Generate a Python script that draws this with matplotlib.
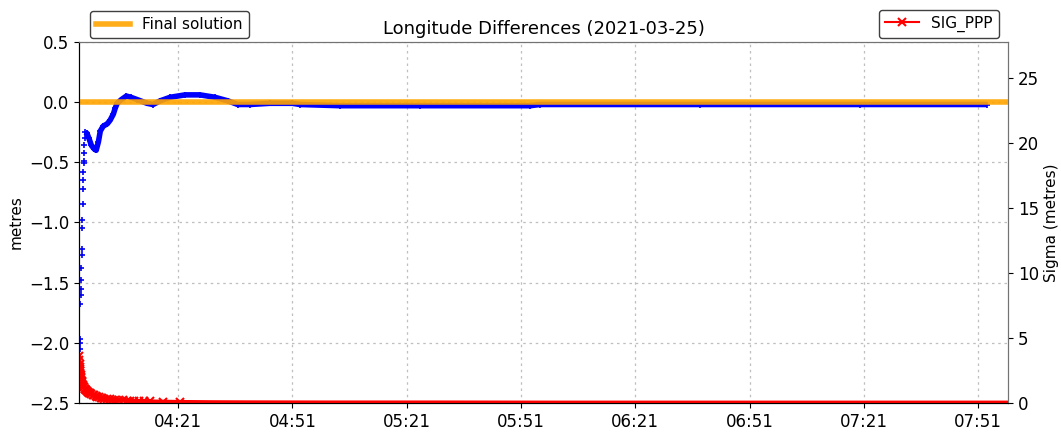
import matplotlib
matplotlib.use("Agg")
import matplotlib.pyplot as plt
import matplotlib.dates as mdates
import pandas as pd

# time range of the session
t_start = "2021-03-25 03:55:00"
t_end = "2021-03-25 07:58:50"

# longitude differences (metres)
lon_times = ["03:55:00", "03:55:04", "03:55:08", "03:55:12", "03:55:16", "03:55:20",
             "03:55:24", "03:55:28", "03:55:32", "03:55:36", "03:55:40", "03:55:44",
             "03:55:48", "03:55:52", "03:55:56", "03:56:00", "03:56:04", "03:56:08",
             "03:56:12", "03:56:16", "03:56:20", "03:56:24", "03:56:28",
             "03:56:35", "03:57:05", "03:57:35", "03:58:15", "03:59:00", "03:59:30",
             "04:00:05", "04:00:35", "04:01:20", "04:02:25", "04:03:10", "04:04:00",
             "04:04:30", "04:05:00", "04:06:05", "04:07:25", "04:08:35", "04:10:20",
             "04:12:50", "04:14:25", "04:16:15", "04:18:55", "04:22:50", "04:26:45",
             "04:30:40", "04:34:05", "04:36:40", "04:39:50", "04:45:05", "04:51:00",
             "04:53:00", "05:03:30", "05:24:30", "05:53:25", "05:56:00", "06:38:00",
             "07:20:00", "07:53:20"]
lon_diff = [-2.30, -2.22, -2.05, -2.00, -1.97, -1.68,
            -1.60, -1.55, -1.48, -1.38, -1.27, -1.22,
            -1.05, -0.98, -0.85, -0.72, -0.65, -0.58,
            -0.51, -0.49, -0.42, -0.36, -0.30,
            -0.25, -0.26, -0.30, -0.36, -0.39, -0.40,
            -0.33, -0.24, -0.20, -0.18, -0.15, -0.10,
            -0.05, -0.01, 0.02, 0.05, 0.04, 0.02,
            -0.01, -0.02, 0.01, 0.04, 0.06, 0.06,
            0.04, 0.01, -0.02, -0.02, -0.01, -0.01,
            -0.02, -0.03, -0.03, -0.03, -0.02, -0.02,
            -0.02, -0.02]

# sigma of the PPP solution (metres)
sig_times = ["03:55:00", "03:55:04", "03:55:08", "03:55:12", "03:55:15", "03:55:19",
             "03:55:22", "03:55:26", "03:55:30", "03:55:34", "03:55:38", "03:55:42",
             "03:55:45", "03:55:52", "03:56:00", "03:56:10", "03:56:20", "03:56:30",
             "03:56:40", "03:56:52", "03:57:05", "03:57:20", "03:57:35", "03:57:50",
             "03:58:10", "03:58:35", "03:59:00", "03:59:20", "03:59:45", "04:00:10",
             "04:00:40", "04:01:05", "04:01:35", "04:02:15", "04:03:00", "04:03:45",
             "04:04:30", "04:05:30", "04:06:30", "04:07:30", "04:08:25", "04:09:30",
             "04:10:40", "04:12:00", "04:13:40", "04:17:00", "04:21:30", "04:30:00",
             "04:40:00", "05:00:00", "05:30:00", "06:00:00", "06:30:00", "07:00:00",
             "07:30:00", "07:58:50"]
sig_ppp = [3.6, 3.3, 3.0, 2.8, 2.6, 2.45,
           2.3, 2.15, 2.0, 1.9, 1.8, 1.7,
           1.6, 1.5, 1.4, 1.3, 1.2, 1.12,
           1.05, 0.97, 0.9, 0.85, 0.8, 0.75,
           0.7, 0.65, 0.6, 0.55, 0.5, 0.46,
           0.42, 0.38, 0.35, 0.32, 0.3, 0.27,
           0.25, 0.23, 0.21, 0.19, 0.18, 0.16,
           0.15, 0.13, 0.12, 0.10, 0.08, 0.06,
           0.05, 0.04, 0.04, 0.03, 0.03, 0.03,
           0.03, 0.03]

final_solution = 0.0

day = "2021-03-25 "
lon_t = pd.to_datetime([day + s for s in lon_times])
sig_t = pd.to_datetime([day + s for s in sig_times])
t0 = pd.Timestamp(t_start)
t1 = pd.Timestamp(t_end)

fig = plt.figure(figsize=(10.61, 4.32), dpi=100)
ax = fig.add_axes([0.0745, 0.067, 0.8755, 0.836])

# blue: dense markers, the settled part looks like a thick band
ax.plot(lon_t[23:], lon_diff[23:], color="blue", lw=4, solid_capstyle="butt", zorder=2)
ax.plot(lon_t, lon_diff, "+", color="blue", ms=5, mew=1.2, zorder=2)
ax.plot([t0, t1], [final_solution, final_solution], color="orange", lw=4,
        alpha=0.9, label="Final solution", zorder=3)

ax.set_xlim(t0, t1)
ax.set_ylim(-2.5, 0.5)
ax.set_yticks([0.5, 0.0, -0.5, -1.0, -1.5, -2.0, -2.5])
ax.set_ylabel("metres", fontsize=11)
ax.tick_params(labelsize=12)
ax.grid(True, linestyle=(0, (2, 3)), color="0.75", lw=0.9)
ax.xaxis.set_major_locator(mdates.MinuteLocator(byminute=[21, 51]))
ax.xaxis.set_major_formatter(mdates.DateFormatter("%H:%M"))
ax.set_title("Longitude Differences (2021-03-25)", fontsize=13)

leg1 = ax.legend(loc="lower left", bbox_to_anchor=(0.008, 1.0), fontsize=11,
                 borderaxespad=0.25, handlelength=2.2)
leg1.get_frame().set_edgecolor("0.25")
leg1.get_frame().set_alpha(1)

ax2 = ax.twinx()
ax2.plot(sig_t, sig_ppp, "-x", color="red", lw=3, ms=6, mew=1.5,
         markevery=slice(0, 47), label="SIG_PPP")
ax2.set_ylim(0, 27.8)
ax2.set_yticks([0, 5, 10, 15, 20, 25])
ax2.set_ylabel("Sigma (metres)", fontsize=11)
ax2.tick_params(labelsize=12)
leg2 = ax2.legend(loc="lower right", bbox_to_anchor=(0.994, 1.0), fontsize=11,
                  borderaxespad=0.25, handlelength=2.2)
leg2.get_frame().set_edgecolor("0.25")
leg2.get_frame().set_alpha(1)
for line in leg2.get_lines():
    line.set_linewidth(1.5)

for a in (ax, ax2):
    a.spines["top"].set_color("0.45")
    a.spines["right"].set_color("0.45")

fig.savefig("out.png", dpi=100)
